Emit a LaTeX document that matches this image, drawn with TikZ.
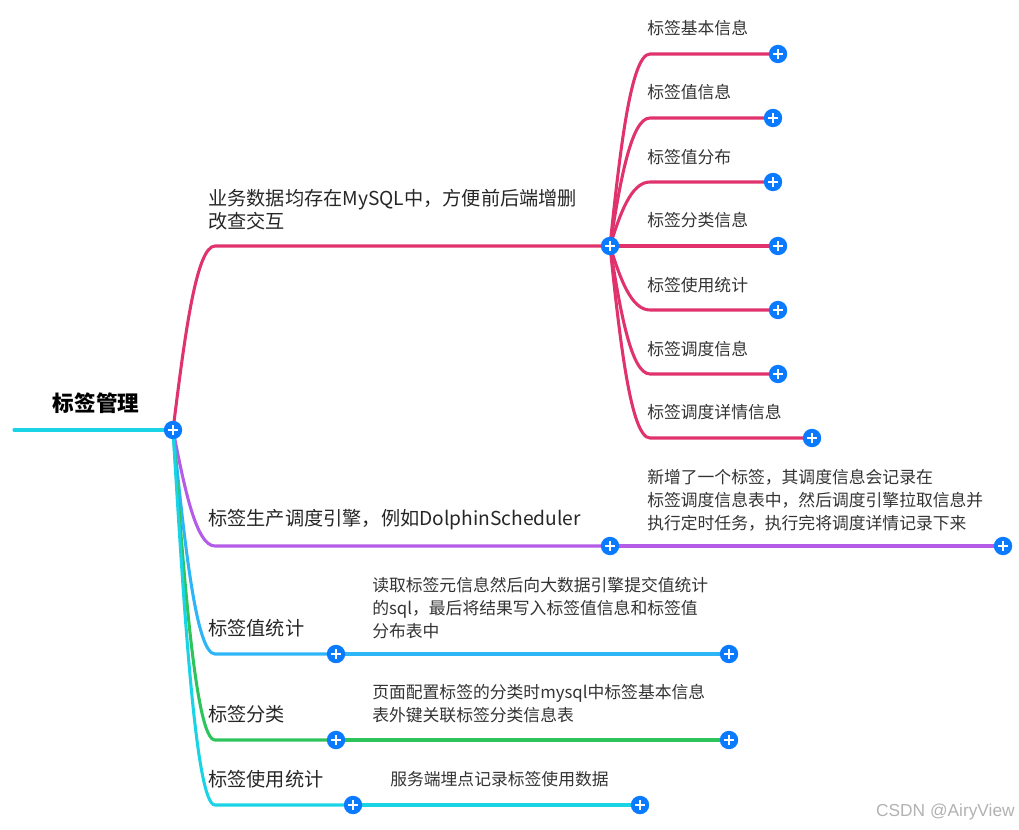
\documentclass[tikz,border=0pt]{standalone}
\usepackage{fontspec}
\setmainfont{Noto Sans CJK SC}
\newfontfamily\wmfont{Liberation Sans}
\definecolor{cpink}{HTML}{E0336E}
\definecolor{cpurple}{HTML}{B45CE8}
\definecolor{clblue}{HTML}{2EB5F7}
\definecolor{cgreen}{HTML}{2EC45C}
\definecolor{ccyan}{HTML}{1AD4E6}
\definecolor{cplus}{HTML}{0A7BFF}
\definecolor{ctext}{HTML}{333333}
\begin{document}
\begin{tikzpicture}[x=0.75pt,y=-0.75pt,
  conn/.style={line width=2.3pt, line cap=round},
  plusnode/.style={circle, fill=cplus, minimum size=13.8pt, inner sep=0pt,
    path picture={
      \draw[white, line width=1.6pt] ([xshift=-3.8pt]path picture bounding box.center) -- ([xshift=3.8pt]path picture bounding box.center);
      \draw[white, line width=1.6pt] ([yshift=-3.8pt]path picture bounding box.center) -- ([yshift=3.8pt]path picture bounding box.center);}},
  leaf/.style={anchor=west, inner sep=0pt, text=ctext, font=\fontsize{12.6}{17.25}\selectfont, align=left},
  blabel/.style={anchor=west, inner sep=0pt, text=black!85, font=\fontsize{14.4}{17.4}\selectfont, align=left}
]
\useasboundingbox (0,0) rectangle (1019,830);
% positions
\coordinate (r0) at (14,430);
\coordinate (root) at (173,430);
\coordinate (b1) at (610,246);
\coordinate (b2) at (610,546);
\coordinate (b3) at (336,654);
\coordinate (b4) at (336,740);
\coordinate (b5) at (353,805);
\coordinate (l1) at (778,54);
\coordinate (l2) at (773,118);
\coordinate (l3) at (773,182);
\coordinate (l4) at (778,246);
\coordinate (l5) at (778,310);
\coordinate (l6) at (778,374);
\coordinate (l7) at (812,438);
\coordinate (c2) at (1003,546);
\coordinate (c3) at (729,654);
\coordinate (c4) at (729,740);
\coordinate (c5) at (640,805);
% root line
\draw[conn, ccyan] (r0) -- (root);
% main branches
\draw[conn, cpink] (root) .. controls (184.5,338) and (196,246) .. (215,246) -- (b1);
\draw[conn, cpurple] (root) .. controls (184.5,488) and (196,546) .. (215,546) -- (b2);
\draw[conn, clblue] (root) .. controls (184.5,542) and (196,654) .. (215,654) -- (b3);
\draw[conn, cgreen] (root) .. controls (184.5,585) and (196,740) .. (215,740) -- (b4);
\draw[conn, ccyan] (root) .. controls (184.5,617.5) and (196,805) .. (215,805) -- (b5);
% sub-branches of b1
\draw[conn, cpink] (b1) .. controls (620,150) and (631,54) .. (650,54) -- (l1);
\draw[conn, cpink] (b1) .. controls (620,182) and (631,118) .. (650,118) -- (l2);
\draw[conn, cpink] (b1) .. controls (620,214) and (631,182) .. (650,182) -- (l3);
\draw[conn, cpink] (b1) -- (l4);
\draw[conn, cpink] (b1) .. controls (620,278) and (631,310) .. (650,310) -- (l5);
\draw[conn, cpink] (b1) .. controls (620,310) and (631,374) .. (650,374) -- (l6);
\draw[conn, cpink] (b1) .. controls (620,342) and (631,438) .. (650,438) -- (l7);
% other children
\draw[conn, cpurple] (b2) -- (c2);
\draw[conn, clblue] (b3) -- (c3);
\draw[conn, cgreen] (b4) -- (c4);
\draw[conn, ccyan] (b5) -- (c5);
% plus icons
\foreach \p in {root,b1,b2,b3,b4,b5,l1,l2,l3,l4,l5,l6,l7,c2,c3,c4,c5}
  \node[plusnode] (p-\p) at (\p) {};
% labels
\node[anchor=center, inner sep=0pt, font=\fontsize{16.2}{18}\selectfont\bfseries] (troot) at (96,403) {标签管理};
\node[blabel] (t1) at (208,209.5) {业务数据均存在MySQL中，方便前后端增删\\改查交互};
\node[blabel] (t2) at (208,520) {标签生产调度引擎，例如DolphinScheduler};
\node[blabel] (t3) at (208,628) {标签值统计};
\node[blabel] (t4) at (208,714) {标签分类};
\node[blabel] (t5) at (208,779) {标签使用统计};
\node[leaf] (tl1) at (647,28) {标签基本信息};
\node[leaf] (tl2) at (647,92) {标签值信息};
\node[leaf] (tl3) at (647,157) {标签值分布};
\node[leaf] (tl4) at (647,220) {标签分类信息};
\node[leaf] (tl5) at (647,285) {标签使用统计};
\node[leaf] (tl6) at (647,349) {标签调度信息};
\node[leaf] (tl7) at (647,412) {标签调度详情信息};
\node[leaf] (tc2) at (647,500) {新增了一个标签，其调度信息会记录在\\标签调度信息表中，然后调度引擎拉取信息并\\执行定时任务，执行完将调度详情记录下来};
\node[leaf] (tc3) at (372,608) {读取标签元信息然后向大数据引擎提交值统计\\的sql，最后将结果写入标签值信息和标签值\\分布表中};
\node[leaf] (tc4) at (372,704) {页面配置标签的分类时mysql中标签基本信息\\表外键关联标签分类信息表};
\node[leaf] (tc5) at (390,779) {服务端埋点记录标签使用数据};
\node[anchor=east, inner sep=0pt, text=black!30, font=\wmfont\fontsize{13}{15}\selectfont] (wm) at (1015,812) {CSDN @AiryView};
\end{tikzpicture}
\end{document}
